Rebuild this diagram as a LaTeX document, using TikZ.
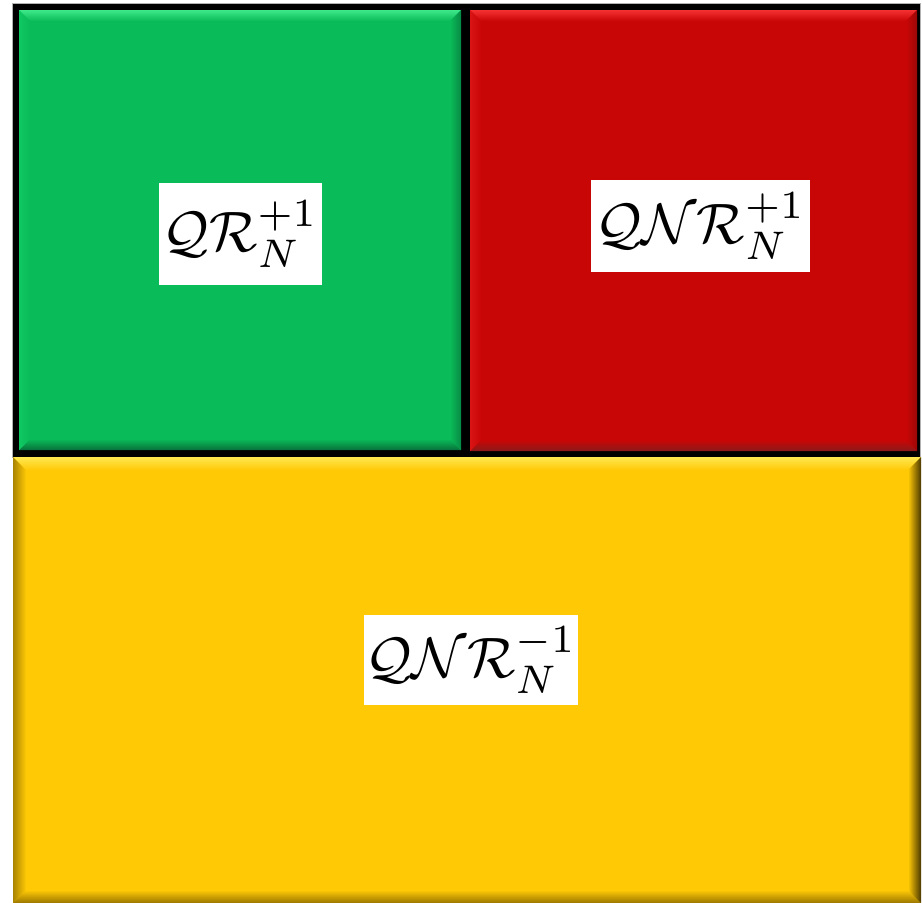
\documentclass[tikz,border=0pt]{standalone}
\usepackage{graphicx}
\definecolor{gmain}{HTML}{0ABB59}
\definecolor{gtop}{HTML}{3EE88A}
\definecolor{gleft}{HTML}{10C862}
\definecolor{gright}{HTML}{078A44}
\definecolor{gbot}{HTML}{08703A}
\definecolor{rmain}{HTML}{C90606}
\definecolor{rtop}{HTML}{F53030}
\definecolor{rleft}{HTML}{DA1414}
\definecolor{rright}{HTML}{9A0808}
\definecolor{rbot}{HTML}{8A1A1A}
\definecolor{ymain}{HTML}{FFC906}
\definecolor{ytop}{HTML}{FFE850}
\definecolor{yleft}{HTML}{A88400}
\definecolor{yright}{HTML}{4A3800}
\definecolor{ybot}{HTML}{9A7600}
\newcommand\bevelrect[6]{%
 \fill[#6main] (#1,#2) rectangle (#3,#4);
 \shade[top color=#6top, bottom color=#6main] (#1,#2) -- (#3,#2) -- ({#3-#5},{#2+#5}) -- ({#1+#5},{#2+#5}) -- cycle;
 \shade[bottom color=#6bot, top color=#6main] (#1,#4) -- (#3,#4) -- ({#3-#5},{#4-#5}) -- ({#1+#5},{#4-#5}) -- cycle;
 \shade[left color=#6left, right color=#6main] (#1,#2) -- ({#1+#5},{#2+#5}) -- ({#1+#5},{#4-#5}) -- (#1,#4) -- cycle;
 \shade[right color=#6right, left color=#6main] (#3,#2) -- ({#3-#5},{#2+#5}) -- ({#3-#5},{#4-#5}) -- (#3,#4) -- cycle;
}
\newcommand\biglab[1]{\scalebox{5.7}{$#1$}}
\tikzset{lab/.style={fill=white, inner sep=0pt, align=center}}
\begin{document}
\begin{tikzpicture}[x=1pt,y=-1pt]
\useasboundingbox[fill=white] (0,0) rectangle (922,903);
% black frame for top row
\fill[gray!60] (12,3) rectangle (921,458);
\fill[black] (13,4) rectangle (920,457);
% green box
\bevelrect{19}{10}{461}{450}{11}{g}
% red box
\bevelrect{470}{10}{917}{451}{11}{r}
% yellow box
\bevelrect{13}{457}{921}{903}{13}{y}
% labels
\node[lab, minimum width=163pt, minimum height=102pt] (qr) at (240.5,234) {\biglab{\mathcal{QR}_N^{+1}}};
\node[lab, minimum width=219pt, minimum height=92pt] (qnrp) at (700.5,226) {\biglab{\mathcal{QNR}_N^{+1}}};
\node[lab, minimum width=214pt, minimum height=90pt] (qnrm) at (471,660) {\biglab{\mathcal{QNR}_N^{-1}}};
\end{tikzpicture}
\end{document}
